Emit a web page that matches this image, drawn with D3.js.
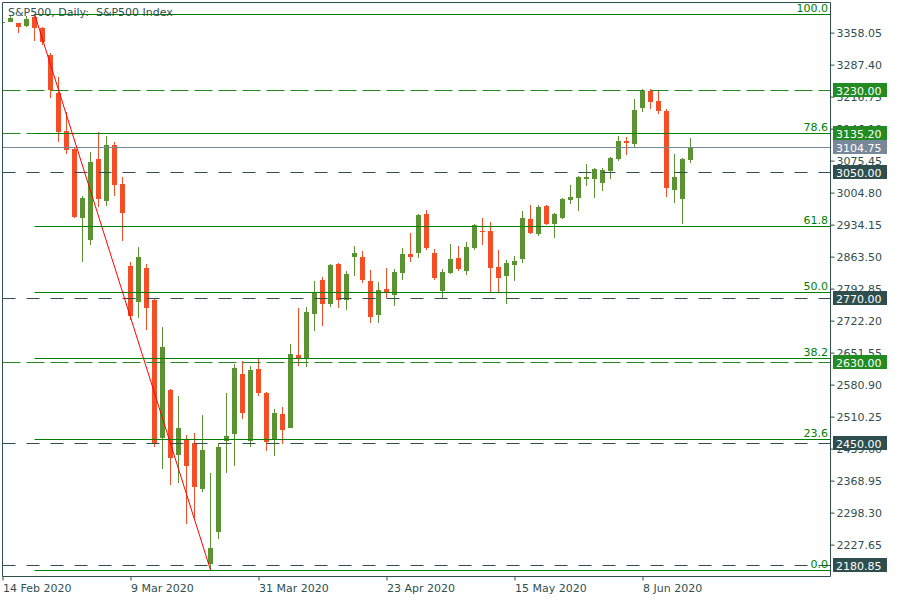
<!DOCTYPE html>
<html><head><meta charset="utf-8">
<script src="https://cdn.jsdelivr.net/npm/d3@7/dist/d3.min.js"></script>
<style>
body{margin:0;background:#fff}
svg{display:block;font-family:"DejaVu Sans",sans-serif}
</style>
</head><body><svg id="c" width="900" height="600"></svg>
<script>
// ---------- data ----------
const title = "S&P500, Daily:  S&P500 Index";
const dates = [
"2020-02-14","2020-02-17","2020-02-18","2020-02-19","2020-02-20","2020-02-21","2020-02-24","2020-02-25","2020-02-26","2020-02-27","2020-02-28",
"2020-03-02","2020-03-03","2020-03-04","2020-03-05","2020-03-06","2020-03-09","2020-03-10","2020-03-11","2020-03-12","2020-03-13","2020-03-16","2020-03-17","2020-03-18","2020-03-19","2020-03-20","2020-03-23","2020-03-24","2020-03-25","2020-03-26","2020-03-27","2020-03-30","2020-03-31",
"2020-04-01","2020-04-02","2020-04-03","2020-04-06","2020-04-07","2020-04-08","2020-04-09","2020-04-13","2020-04-14","2020-04-15","2020-04-16","2020-04-17","2020-04-20","2020-04-21","2020-04-22","2020-04-23","2020-04-24","2020-04-27","2020-04-28","2020-04-29","2020-04-30",
"2020-05-01","2020-05-04","2020-05-05","2020-05-06","2020-05-07","2020-05-08","2020-05-11","2020-05-12","2020-05-13","2020-05-14","2020-05-15","2020-05-18","2020-05-19","2020-05-20","2020-05-21","2020-05-22","2020-05-25","2020-05-26","2020-05-27","2020-05-28","2020-05-29",
"2020-06-01","2020-06-02","2020-06-03","2020-06-04","2020-06-05","2020-06-08","2020-06-09","2020-06-10","2020-06-11","2020-06-12","2020-06-15","2020-06-16"];
const open = [3379.3,3381.1,3378.2,3371.6,3392.1,3367.2,3307.6,3224.3,3139.8,3100.0,2948.4,
2899.8,3078.0,2985.9,3108.9,3022.8,2841.7,2762.9,2837.3,2766.7,2462.7,2568.0,2425.1,2458.2,2450.3,2350.0,2184.5,2255.1,2456.0,2471.5,2603.3,2456.0,2614.3,
2561.3,2459.1,2515.0,2484.7,2645.2,2638.6,2736.4,2810.8,2758.5,2846.1,2767.3,2862.3,2861.6,2808.6,2734.2,2791.0,2778.4,2826.9,2868.2,2871.1,2956.5,
2870.4,2787.2,2826.9,2859.4,2831.4,2882.1,2919.0,2919.0,2839.5,2820.3,2844.6,2857.8,2945.5,2913.0,2974.2,2935.1,2948.4,2988.1,2992.5,3034.5,3034.5,
3025.6,3052.1,3078.6,3117.7,3111.7,3191.2,3228.1,3206.0,3183.9,3010.2,2990.3,3076.4];
const high = [3384.8,3395.9,3379.0,3393.7,3398.1,3370.0,3312.6,3259.0,3182.4,3101.5,2996.3,
3093.4,3136.9,3128.7,3116.2,3038.9,2850.6,2883.7,2846.1,2769.0,2707.1,2569.5,2554.7,2468.6,2473.0,2512.8,2384.7,2450.9,2561.3,2625.4,2631.3,2621.0,2637.1,
2563.0,2525.4,2530.4,2669.5,2749.0,2751.2,2808.6,2817.4,2846.0,2848.0,2830.7,2885.9,2874.8,2832.9,2806.4,2837.3,2835.1,2881.5,2914.6,2956.5,2965.4,
2879.3,2835.1,2890.3,2885.9,2894.7,2934.0,2947.7,2938.9,2877.1,2855.0,2863.8,2963.2,2976.4,2976.4,2976.0,2958.0,2991.5,3020.6,3040.4,3066.9,3058.1,
3058.1,3082.0,3128.7,3126.5,3210.4,3232.5,3232.5,3228.1,3188.4,3089.0,3080.8,3124.3];
const low = [3376.0,3380.0,3355.5,3370.0,3339.1,3329.6,3213.3,3116.2,3089.7,2948.0,2851.2,
2888.1,2972.6,2974.9,2996.9,2897.6,2721.8,2727.6,2701.1,2441.5,2394.2,2358.2,2363.3,2272.8,2284.7,2343.4,2170.6,2239.7,2385.4,2400.8,2504.6,2442.8,2555.4,
2433.9,2422.9,2448.1,2483.0,2621.6,2619.4,2698.9,2709.9,2751.9,2749.7,2745.2,2820.3,2804.9,2716.5,2716.5,2771.1,2754.1,2810.8,2851.2,2860.1,2877.7,
2811.5,2770.4,2824.7,2831.4,2822.5,2877.7,2888.8,2785.0,2785.0,2758.5,2809.3,2849.0,2913.0,2908.6,2932.9,2904.2,2946.2,2979.3,2963.8,3019.0,2992.5,
3008.0,3034.5,3074.2,3087.5,3105.1,3182.4,3189.0,3178.0,2994.7,2981.5,2935.1,3069.8];
const close = [3381.5,3389.9,3370.0,3387.1,3367.8,3336.9,3230.3,3138.2,3098.5,2950.6,2991.9,
3071.3,2989.6,3108.9,3021.2,2959.4,2732.0,2861.6,2749.7,2450.3,2662.9,2418.5,2484.1,2400.8,2354.5,2435.5,2219.1,2442.1,2466.4,2616.5,2517.8,2612.1,2562.0,
2453.8,2517.2,2480.3,2647.4,2638.6,2740.2,2782.8,2758.5,2843.9,2767.3,2824.1,2870.4,2811.5,2729.8,2788.7,2784.3,2828.5,2868.2,2862.3,2954.3,2882.1,
2815.9,2828.5,2857.2,2835.8,2883.7,2932.2,2916.8,2838.0,2815.9,2848.4,2852.8,2947.7,2915.2,2972.0,2935.1,2956.5,2989.6,2994.1,3038.2,3038.2,3055.9,
3053.7,3080.2,3117.7,3114.0,3186.1,3228.1,3204.5,3184.6,3014.6,3038.2,3078.6,3104.75];

const yTicks = [3358.05,3287.40,3216.75,3146.10,3075.45,3004.80,2934.15,2863.50,2792.85,2722.20,2651.55,2580.90,2510.25,2439.60,2368.95,2298.30,2227.65];
const xTickDates = ["2020-02-14","2020-03-09","2020-03-31","2020-04-23","2020-05-15","2020-06-08"];

const fibLevels = [0, 23.6, 38.2, 50.0, 61.8, 78.6, 100.0];
const fibLow = 2170.6, fibHigh = 3398.1;
const fibStart = "2020-02-20", fibEnd = "2020-03-23";

const greenLevels = [3230.00, 3135.20, 2630.00];
const darkLevels = [3050.00, 2770.00, 2450.00, 2180.85];
const currentPrice = 3104.75;

// ---------- drawing ----------
(function(){
const pL = 2.5, pR = 830.5, pT = 2.5, pB = 576.5;
const C = {frame:"#2F4F4F", up:"#5B9232", down:"#F44E27", fib:"#008000", green:"#228B22", dark:"#2F4F4F", gray:"#778899", trend:"#FF0000"};

const svg = d3.select("#c");
const x = d3.scalePoint().domain(dates).range([2.5, 2.5 + 8 * (dates.length - 1)]);
const y = d3.scaleLinear().domain([2157.3, 3424.6]).range([576, 2]);
const py = v => Math.round(y(v)) + 0.5;

svg.append("defs").append("clipPath").attr("id","plot")
  .append("rect").attr("x", pL + 0.5).attr("y", pT + 0.5).attr("width", pR - pL - 1).attr("height", pB - pT - 1);

const plot = svg.append("g").attr("clip-path","url(#plot)");

// candles
const bars = dates.map((d,i)=>({d, o:open[i], h:high[i], l:low[i], c:close[i]}));
const cg = plot.append("g");
cg.selectAll("line.w").data(bars).join("line").attr("class","w")
  .attr("x1", d=>x(d.d)).attr("x2", d=>x(d.d))
  .attr("y1", d=>Math.round(y(d.h))).attr("y2", d=>Math.round(y(d.l)))
  .attr("stroke", d=> d.c >= d.o ? C.up : C.down).attr("stroke-width",1);
cg.selectAll("rect.b").data(bars).join("rect").attr("class","b")
  .attr("x", d=>x(d.d) - 2.5).attr("width", 5)
  .attr("y", d=>Math.round(y(Math.max(d.o,d.c))))
  .attr("height", d=>Math.max(1, Math.round(y(Math.min(d.o,d.c))) - Math.round(y(Math.max(d.o,d.c)))))
  .attr("fill", d=> d.c >= d.o ? C.up : C.down);

// horizontal price levels
const lg = plot.append("g");
lg.selectAll("line.g").data(greenLevels).join("line").attr("class","g")
  .attr("x1", pL).attr("x2", pR).attr("y1", py).attr("y2", py)
  .attr("stroke", C.green).attr("stroke-width",1).attr("stroke-dasharray","18,6");
lg.selectAll("line.d").data(darkLevels).join("line").attr("class","d")
  .attr("x1", pL).attr("x2", pR).attr("y1", py).attr("y2", py)
  .attr("stroke", C.dark).attr("stroke-width",1).attr("stroke-dasharray","13,11");
lg.append("line").attr("x1", pL).attr("x2", pR).attr("y1", py(currentPrice)).attr("y2", py(currentPrice))
  .attr("stroke", C.gray).attr("stroke-width",1);

// fibonacci
const fibV = p => fibLow + p / 100 * (fibHigh - fibLow);
const fg = plot.append("g");
fg.selectAll("line").data(fibLevels).join("line")
  .attr("x1", x(fibStart)).attr("x2", pR).attr("y1", p=>py(fibV(p))).attr("y2", p=>py(fibV(p)))
  .attr("stroke", C.fib).attr("stroke-width",1);
fg.selectAll("text").data(fibLevels).join("text")
  .attr("x", 828).attr("y", p=>py(fibV(p)) - 3)
  .attr("text-anchor","end").attr("font-size",11).attr("fill", C.fib)
  .text(p=>p.toFixed(1));
// trend line
plot.append("line")
  .attr("x1", x(fibStart)).attr("y1", y(fibHigh)).attr("x2", x(fibEnd)).attr("y2", y(fibLow))
  .attr("stroke", C.trend).attr("stroke-width",1);

// frame
svg.append("path").attr("d", `M${pL},${pT}H${pR}V${pB}H${pL}Z`)
  .attr("fill","none").attr("stroke", C.frame).attr("stroke-width",1);

// right axis
const ya = svg.append("g").attr("transform",`translate(${pR},0.5)`)
  .call(d3.axisRight(y).tickValues(yTicks).tickFormat(d3.format(".2f")).tickSize(4).tickPadding(2));
ya.select(".domain").remove();
ya.selectAll("line").attr("stroke", C.frame);
ya.selectAll("text").attr("fill", C.frame).attr("font-size",11).attr("font-family","DejaVu Sans");

// bottom axis
const fmt = d3.timeFormat("%-d %b %Y"), parse = d3.timeParse("%Y-%m-%d");
const xa = svg.append("g").attr("transform",`translate(0,${pB})`)
  .call(d3.axisBottom(x).tickValues(xTickDates).tickFormat(d=>fmt(parse(d))).tickSize(4).tickPadding(4));
xa.select(".domain").remove();
xa.selectAll("line").attr("stroke", C.frame);
xa.selectAll("text").attr("fill", C.frame).attr("font-size",11).attr("font-family","DejaVu Sans").attr("text-anchor","start");

// price labels on right axis
const labels = [
  ...greenLevels.map(v=>({v, bg:C.green})),
  {v:currentPrice, bg:C.gray},
  ...darkLevels.map(v=>({v, bg:C.dark}))
];
const lbl = svg.append("g").selectAll("g").data(labels).join("g")
  .attr("transform", d=>`translate(833,${Math.round(y(d.v))})`);
lbl.append("rect").attr("x",0).attr("y",-7).attr("width",54).attr("height",14).attr("fill", d=>d.bg);
lbl.append("text").attr("x",3).attr("y",4.5).attr("font-size",11).attr("fill","#fff").text(d=>d.v.toFixed(2));

// title
svg.append("text").attr("x",8).attr("y",16).attr("font-size",11).attr("fill", C.frame)
  .style("white-space","pre").text(title);
})();
</script>
</body></html>
